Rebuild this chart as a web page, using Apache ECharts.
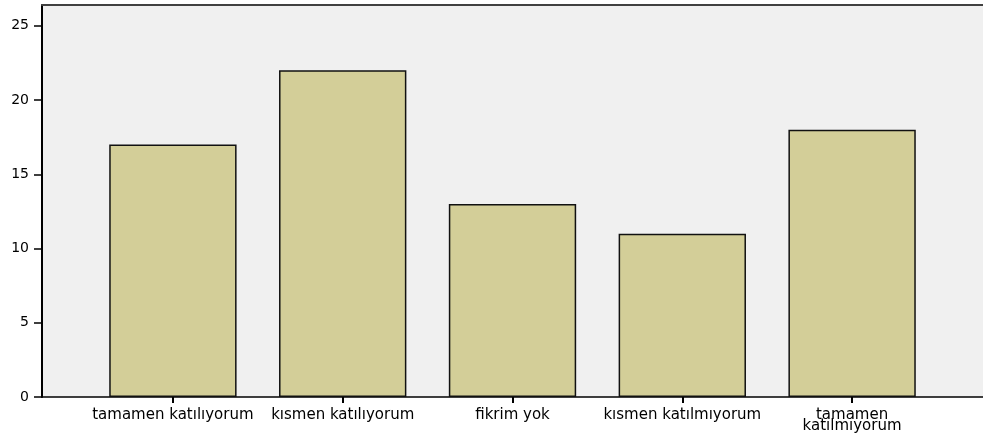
<!DOCTYPE html>
<html>
<head>
<meta charset="utf-8">
<script src="https://cdn.jsdelivr.net/npm/echarts@6/dist/echarts.min.js"></script>
<style>
html,body{margin:0;padding:0;background:#fff;}
#chart{width:983px;height:435px;}
</style>
</head>
<body>
<div id="chart"></div>
<script>
const categories = ["tamamen katılıyorum", "kısmen katılıyorum", "fikrim yok", "kısmen katılmıyorum", "tamamen katılmıyorum"];
const counts = [17, 22, 13, 11, 18];
const yTicks = [0, 5, 10, 15, 20, 25];
const yMax = 26.4;

const chart = echarts.init(document.getElementById('chart'), null, {renderer: 'canvas'});
const font = 'DejaVu Sans';
chart.setOption({
  animation: false,
  grid: [
    {left: 42, right: 0, top: 5, bottom: 38, show: true, backgroundColor: '#f0f0f0', borderWidth: 0},
    {left: 88, right: 46, top: 5, bottom: 38}
  ],
  xAxis: [
    {gridIndex: 0, type: 'value', min: 0, max: 1, position: 'bottom',
     axisLine: {show: true, onZero: false, lineStyle: {color: '#000', width: 1.5}},
     axisTick: {show: false}, axisLabel: {show: false}, splitLine: {show: false}},
    {gridIndex: 0, type: 'value', min: 0, max: 1, position: 'top',
     axisLine: {show: true, onZero: false, lineStyle: {color: '#404040', width: 2}},
     axisTick: {show: false}, axisLabel: {show: false}, splitLine: {show: false}},
    {gridIndex: 1, type: 'category', data: categories, position: 'bottom',
     axisLine: {show: false},
     axisTick: {show: true, alignWithLabel: true, length: 6, lineStyle: {color: '#000', width: 2}},
     axisLabel: {interval: 0, margin: 13, color: '#000', fontFamily: font, fontSize: 15,
                 lineHeight: 11,
                 formatter: function (v) { return v.length > 19 ? v.replace(' ', '\n') : v; }}}
  ],
  yAxis: [
    {gridIndex: 0, type: 'value', min: 0, max: yMax,
     axisLine: {show: true, lineStyle: {color: '#000', width: 2}},
     axisTick: {show: true, length: 8, customValues: yTicks, lineStyle: {color: '#000', width: 1.5}},
     axisLabel: {customValues: yTicks, margin: 13, color: '#000', fontFamily: font, fontSize: 14},
     splitLine: {show: false}},
    {gridIndex: 1, type: 'value', min: 0, max: yMax, show: false}
  ],
  series: [{
    type: 'bar', xAxisIndex: 2, yAxisIndex: 1, data: counts,
    barCategoryGap: '25%',
    itemStyle: {color: '#d3ce98', borderColor: '#111', borderWidth: 1.5}
  }]
});
</script>
</body>
</html>
